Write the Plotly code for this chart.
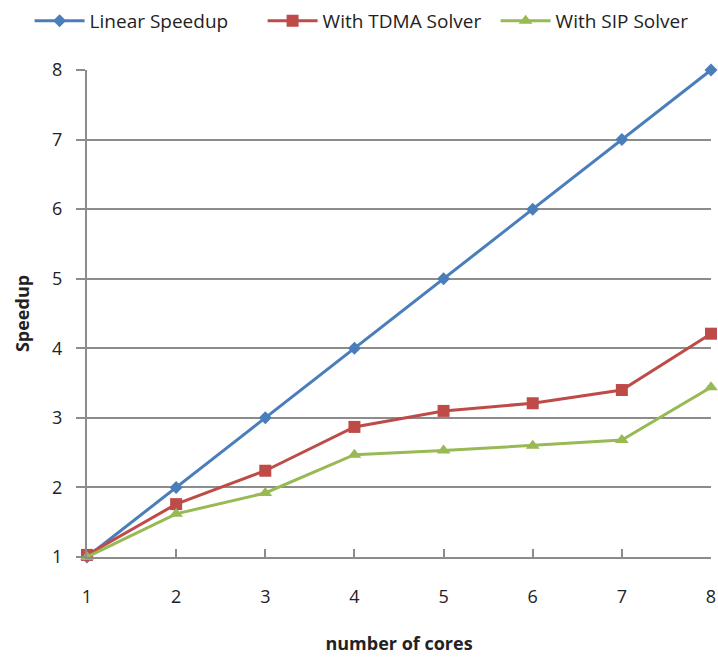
import plotly.graph_objects as go

cores = [1, 2, 3, 4, 5, 6, 7, 8]
linear = [1, 2, 3, 4, 5, 6, 7, 8]
tdma = [1.03, 1.76, 2.24, 2.87, 3.10, 3.21, 3.40, 4.21]
sip = [1.0, 1.62, 1.92, 2.47, 2.53, 2.60, 2.68, 3.44]
y_ticks = [1, 2, 3, 4, 5, 6, 7, 8]

FONT = "Open Sans"
TXT = "#222222"
GRID = "#8c8c8c"

fig = go.Figure()
fig.add_trace(go.Scatter(x=cores, y=linear, name="Linear Speedup", mode="lines+markers",
                         line=dict(color="#4A7EBB", width=3),
                         marker=dict(symbol="diamond", size=10, color="#4A7EBB"),
                         cliponaxis=False))
fig.add_trace(go.Scatter(x=cores, y=tdma, name="With TDMA Solver", mode="lines+markers",
                         line=dict(color="#BE4B48", width=3),
                         marker=dict(symbol="square", size=12, color="#BE4B48"),
                         cliponaxis=False))
fig.add_trace(go.Scatter(x=cores, y=sip, name="With SIP Solver", mode="lines+markers",
                         line=dict(color="#98B954", width=3),
                         marker=dict(symbol="triangle-up", size=12, color="#98B954"),
                         cliponaxis=False))

fig.update_layout(
    width=718, height=657,
    margin=dict(l=87, r=7, t=70, b=100, autoexpand=False),
    paper_bgcolor="white", plot_bgcolor="white",
    font=dict(family=FONT, size=18, color=TXT),
    legend=dict(orientation="h", x=-0.092, xanchor="left",
                y=1.14, yanchor="top",
                font=dict(size=19, color=TXT),
                itemwidth=50, entrywidth=168, tracegroupgap=0),
    showlegend=True,
)
fig.update_xaxes(range=[1, 8], tickvals=cores, ticktext=[str(c) for c in cores],
                 showgrid=False, showline=True, linecolor=GRID, linewidth=2,
                 ticks="inside", ticklen=8, tickcolor=GRID, tickwidth=1.5,
                 ticklabelstandoff=22, zeroline=False,
                 title=dict(text="<b>number of cores</b>", font=dict(size=18, color=TXT), standoff=31))
fig.update_yaxes(range=[1, 8], tickvals=y_ticks, ticktext=[str(v) for v in y_ticks],
                 showgrid=True, gridcolor=GRID, gridwidth=1.5,
                 showline=True, linecolor=GRID, linewidth=2,
                 ticks="outside", ticklen=9, tickcolor=GRID, tickwidth=1.5,
                 ticklabelstandoff=10, zeroline=False,
                 title=dict(text="<b>Speedup</b>", font=dict(size=18, color=TXT), standoff=18))

fig.write_html("out.html")
